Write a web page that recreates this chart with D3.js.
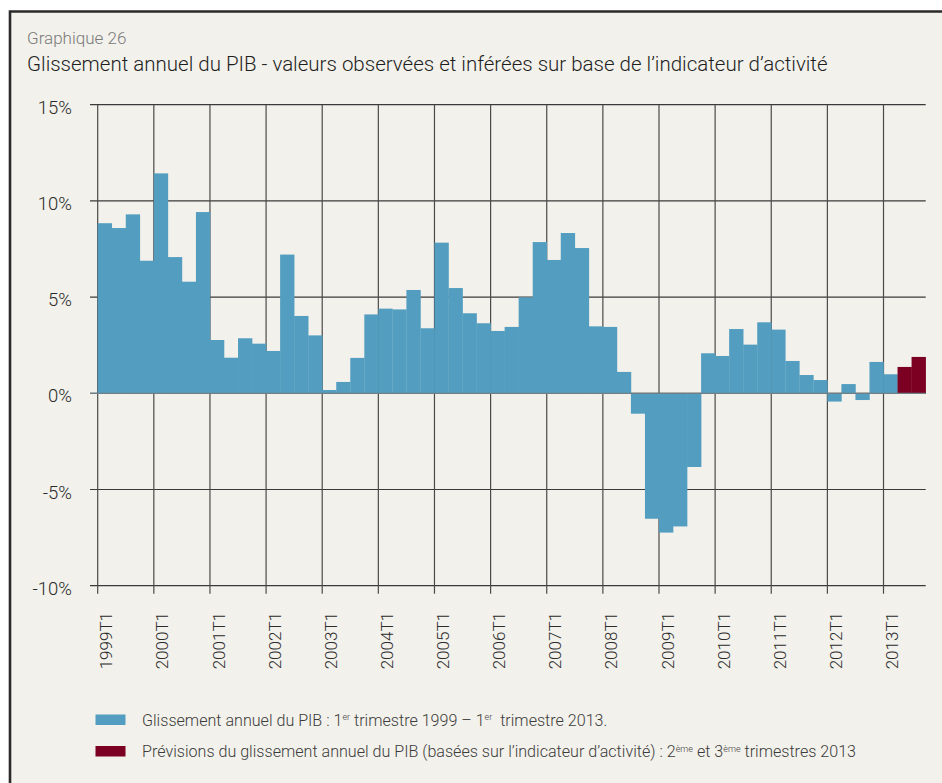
<!DOCTYPE html>
<html>
<head>
<meta charset="utf-8">
<script src="https://cdn.jsdelivr.net/npm/d3@7"></script>
<style>
  html, body { margin: 0; padding: 0; background: #ffffff; }
  svg { display: block; }
  text { font-family: "Roboto", "Noto Sans", sans-serif; font-weight: 300; }
</style>
</head>
<body>
<svg id="chart" width="942" height="783"></svg>
<script>
// Year-on-year GDP growth (%), quarterly, 1999T1 – 2013T1 (observed)
const years = [1999, 2000, 2001, 2002, 2003, 2004, 2005, 2006, 2007, 2008, 2009, 2010, 2011, 2012, 2013];
const observed = [
  8.84, 8.59, 9.30, 6.89,
  11.43, 7.08, 5.80, 9.42,
  2.77, 1.85, 2.86, 2.58,
  2.20, 7.21, 4.02, 3.01,
  0.17, 0.59, 1.84, 4.10,
  4.40, 4.36, 5.37, 3.38,
  7.83, 5.47, 4.16, 3.64,
  3.24, 3.45, 4.99, 7.86,
  6.93, 8.33, 7.55, 3.48,
  3.45, 1.11, -1.06, -6.52,
  -7.24, -6.92, -3.83, 2.08,
  1.94, 3.34, 2.53, 3.69,
  3.31, 1.68, 0.95, 0.69,
  -0.43, 0.48, -0.35, 1.63,
  0.99
];
// Forecasts based on the activity indicator: 2013T2, 2013T3
const forecast = [1.37, 1.89];
const yTicks = [-10, -5, 0, 5, 10, 15];

// Build quarter labels
const quarters = [];
years.forEach(y => [1, 2, 3, 4].forEach(q => quarters.push(y + "T" + q)));
const allValues = observed.concat(forecast);
const labels = quarters.slice(0, allValues.length);
const rows = labels.map((q, i) => ({ q, v: allValues[i], fc: i >= observed.length }));

const svg = d3.select("#chart");

// Frame and background
svg.append("rect").attr("x", 10).attr("y", 11.5).attr("width", 940).attr("height", 780).attr("fill", "#f2f1eb");
svg.append("path").attr("d", "M10,790 L10,11.5 L945,11.5")
  .attr("fill", "none").attr("stroke", "#2a2a2a").attr("stroke-width", 2.6);

// Titles
svg.append("text").attr("x", 27).attr("y", 44).attr("font-size", 17).attr("fill", "#7a7a7a").text("Graphique 26");
svg.append("text").attr("x", 27).attr("y", 71).attr("font-size", 20.5).attr("fill", "#1e1e1e")
  .text("Glissement annuel du PIB - valeurs observées et inférées sur base de l’indicateur d’activité");

// Scales
const x = d3.scaleBand().domain(labels).range([97.7, 925.6]).paddingInner(0).paddingOuter(0);
const y = d3.scaleLinear().domain([-10, 15]).range([585.7, 104.7]);

const g = svg.append("g");

// Horizontal grid
g.selectAll("line.h").data(yTicks).join("line")
  .attr("x1", 90).attr("x2", 925.7)
  .attr("y1", d => y(d)).attr("y2", d => y(d))
  .attr("stroke", "#3a3a3a").attr("stroke-width", 1.2);

// Vertical grid at each year's first quarter
const yearStarts = labels.filter(l => l.endsWith("T1"));
g.selectAll("line.v").data(yearStarts).join("line")
  .attr("x1", d => x(d)).attr("x2", d => x(d))
  .attr("y1", y(15)).attr("y2", y(-10) + 8)
  .attr("stroke", "#4a4a4a").attr("stroke-width", 1.2);

// Bars
g.selectAll("rect.bar").data(rows).join("rect")
  .attr("x", d => x(d.q))
  .attr("width", x.bandwidth() + 0.3)
  .attr("y", d => y(Math.max(0, d.v)))
  .attr("height", d => Math.abs(y(d.v) - y(0)))
  .attr("fill", d => d.fc ? "#7c0022" : "#539ec0");

// Zero line over the bars
g.append("line").attr("x1", 90).attr("x2", 925.7).attr("y1", y(0)).attr("y2", y(0))
  .attr("stroke", "#6f7f86").attr("stroke-width", 1.2);

// Y axis labels
g.selectAll("text.yl").data(yTicks).join("text")
  .attr("x", 72).attr("y", d => y(d) + 9)
  .attr("text-anchor", "end").attr("font-size", 18.5).attr("fill", "#2a2a2a")
  .text(d => d + "%");

// X axis labels (rotated)
g.selectAll("text.xl").data(yearStarts).join("text")
  .attr("transform", d => `translate(${x(d) + 14.6},612) rotate(-90)`)
  .attr("text-anchor", "end").attr("font-size", 17).attr("fill", "#2a2a2a")
  .text(d => d);

// Legend
const legend = [
  { color: "#539ec0", y: 714.5, parts: [["Glissement annuel du PIB : 1", 0], ["er", 1], [" trimestre 1999 – 1", 0], ["er", 1], ["  trimestre 2013.", 0]] },
  { color: "#7c0022", y: 746, parts: [["Prévisions du glissement annuel du PIB (basées sur l’indicateur d’activité) : 2", 0], ["ème", 1], [" et 3", 0], ["ème", 1], [" trimestres 2013", 0]] }
];
legend.forEach(l => {
  svg.append("rect").attr("x", 95.5).attr("y", l.y).attr("width", 30).attr("height", 10.5).attr("fill", l.color);
  const t = svg.append("text").attr("x", 142).attr("y", l.y + 11.2).attr("font-size", 16.1).attr("fill", "#3c3c3c")
    .attr("xml:space", "preserve").style("white-space", "pre");
  l.parts.forEach(([s, sup], i) => {
    const ts = t.append("tspan").text(s);
    const prevSup = i > 0 && l.parts[i - 1][1];
    if (sup) ts.attr("font-size", 9).attr("dy", -5.5);
    else ts.attr("dy", prevSup ? 5.5 : 0);
  });
});
</script>
</body>
</html>
